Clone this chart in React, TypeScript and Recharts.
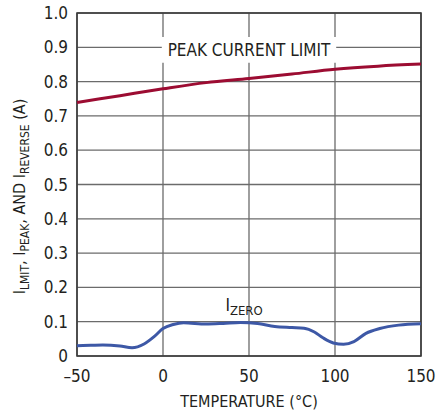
import React from 'react';
import { LineChart, Line, XAxis, YAxis, CartesianGrid, ReferenceArea } from 'recharts';

const peakTemps = [-50, -25, 0, 25, 50, 75, 100, 125, 150];
const peakValues = [0.739, 0.759, 0.779, 0.797, 0.809, 0.822, 0.836, 0.845, 0.851];

const zeroTemps = [-50, -42, -35, -25, -18, -11, -5, 0, 6, 12, 25, 35, 45, 55, 65, 75, 82, 88, 93, 99, 105, 111, 118, 126, 137, 150];
const zeroValues = [0.03, 0.031, 0.032, 0.029, 0.024, 0.035, 0.057, 0.08, 0.092, 0.097, 0.093, 0.095, 0.098, 0.095, 0.086, 0.083, 0.081, 0.07, 0.053, 0.038, 0.034, 0.042, 0.066, 0.08, 0.09, 0.094];

const xTicks = [-50, 0, 50, 100, 150];
const yTicks = [0, 0.1, 0.2, 0.3, 0.4, 0.5, 0.6, 0.7, 0.8, 0.9, 1.0];

const peakData = peakTemps.map((t, i) => ({ t, v: peakValues[i] }));
const zeroData = zeroTemps.map((t, i) => ({ t, v: zeroValues[i] }));

const FONT = "'Liberation Sans Narrow', 'Arial Narrow', 'DejaVu Sans Condensed', 'Liberation Sans', sans-serif";
const TEXT = '#231f20';

const fmtX = (v: number) => (v < 0 ? '\u2013' + Math.abs(v) : String(v));
const fmtY = (v: number) => (v === 0 ? '0' : v.toFixed(1));

const YLabel = (props: any) => {
  const vb = props.viewBox || { x: 0, y: 13, width: 77, height: 343 };
  const cx = vb.x + 25;
  const cy = vb.y + vb.height / 2 + 12;
  return (
    <text x={cx} y={cy} transform={`rotate(-90, ${cx}, ${cy})`} textAnchor="middle" fontFamily={FONT} fontSize={16} fill={TEXT}>
      I<tspan fontSize={12} dy={4}>LMIT</tspan>
      <tspan dy={-4}>, I</tspan>
      <tspan fontSize={12} dy={4}>PEAK</tspan>
      <tspan dy={-4}>, AND I</tspan>
      <tspan fontSize={12} dy={4}>REVERSE</tspan>
      <tspan dy={-4}> (A)</tspan>
    </text>
  );
};

const XLabel = (props: any) => {
  const vb = props.viewBox || { x: 77, y: 356, width: 344, height: 56 };
  return (
    <text x={vb.x + vb.width / 2} y={vb.y + 51} textAnchor="middle" fontFamily={FONT} fontSize={16} fill={TEXT}>
      TEMPERATURE (°C)
    </text>
  );
};

const PeakLabel = (props: any) => {
  const vb = props.viewBox;
  if (!vb) return null;
  return (
    <text x={vb.x + vb.width / 2} y={vb.y + vb.height / 2 + 6} textAnchor="middle" fontFamily={FONT} fontSize={17} fill={TEXT}>
      PEAK CURRENT LIMIT
    </text>
  );
};

const ZeroLabel = (props: any) => {
  const vb = props.viewBox;
  if (!vb) return null;
  return (
    <text x={vb.x} y={vb.y + vb.height} textAnchor="start" fontFamily={FONT} fontSize={17} fill={TEXT}>
      I<tspan fontSize={13} dy={4}>ZERO</tspan>
    </text>
  );
};

export default function App() {
  return (
    <div style={{ position: 'absolute', left: 0, top: 0, width: 437, height: 412, background: '#fff' }}>
      <LineChart width={437} height={412} margin={{ top: 13, right: 16, bottom: 0, left: 0 }}>
        <CartesianGrid stroke="#6b6b6b" strokeWidth={1.3} />
        <XAxis
          type="number"
          dataKey="t"
          domain={[-50, 150]}
          ticks={xTicks}
          tickFormatter={fmtX}
          height={56}
          tickLine={false}
          axisLine={false}
          tickSize={0}
          tickMargin={14}
          tick={{ fontFamily: FONT, fontSize: 17, fill: TEXT }}
          label={<XLabel />}
          allowDuplicatedCategory={false}
        />
        <YAxis
          type="number"
          domain={[0, 1]}
          ticks={yTicks}
          tickFormatter={fmtY}
          width={77}
          tickLine={false}
          axisLine={false}
          tickSize={0}
          tickMargin={9}
          tick={{ fontFamily: FONT, fontSize: 17, fill: TEXT }}
          label={<YLabel />}
        />
        <ReferenceArea x1={-0.7} x2={100.7} y1={0.855} y2={0.93} fill="#ffffff" fillOpacity={1} stroke="none" label={<PeakLabel />} />
        <ReferenceArea x1={36.3} x2={37} y1={0.13} y2={0.14} fill="none" stroke="none" label={<ZeroLabel />} />
        <ReferenceArea x1={-50} x2={150} y1={0} y2={1} fill="none" stroke="#3a3a3a" strokeWidth={1.6} />
        <Line data={peakData} dataKey="v" type="monotone" stroke="#9c0c32" strokeWidth={3} dot={false} isAnimationActive={false} />
        <Line data={zeroData} dataKey="v" type="monotone" stroke="#3d58a6" strokeWidth={3} dot={false} isAnimationActive={false} />
      </LineChart>
    </div>
  );
}
